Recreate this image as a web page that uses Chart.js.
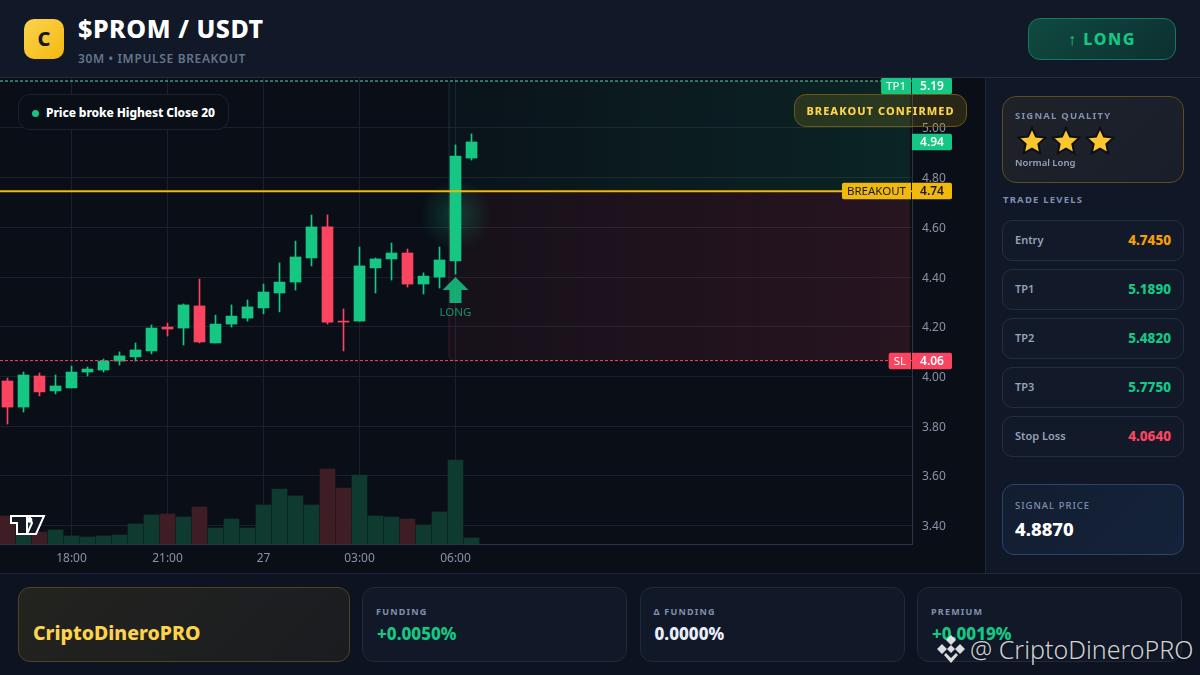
<!DOCTYPE html>
<html>
<head>
<meta charset="utf-8">
<title>$PROM / USDT</title>
<script src="https://cdn.jsdelivr.net/npm/chart.js@4/dist/chart.umd.min.js"></script>
<style>
  *{box-sizing:border-box;margin:0;padding:0}
  html,body{width:1200px;height:675px;overflow:hidden;background:#0a0e17;font-family:"Noto Sans",sans-serif}
  .abs{position:absolute;white-space:nowrap}
  #header{left:0;top:0;width:1200px;height:78px;background:#111827;border-bottom:1px solid #252d3d}
  #logo{left:24px;top:19px;width:40px;height:40px;border-radius:10px;background:linear-gradient(135deg,#fcd34d,#f5b90f);color:#111827;font:800 20px/40px "Noto Sans";text-align:center}
  #title{left:78px;top:11px;font-size:25px;line-height:34px;font-weight:800;color:#fff;letter-spacing:.55px}
  #sub{left:78px;top:50px;font-size:12px;line-height:18px;font-weight:600;color:#64748b;letter-spacing:.65px}
  #long{left:1028px;top:18px;width:148px;height:42px;border-radius:12px;border:1px solid #16795e;background:linear-gradient(135deg,#0f4a3f,#0d2f31);color:#16c784;font-size:16px;line-height:40px;font-weight:800;letter-spacing:1.6px;text-align:center}
  #chartbox{left:0;top:78px;width:985px;height:495px}
  #side{left:985px;top:78px;width:215px;height:495px;background:#101727;border-left:1px solid #1f2738}
  #footer{left:0;top:573px;width:1200px;height:102px;background:#0d1320;border-top:1px solid #1f2738}
  #pill{left:18px;top:94px;width:211px;height:36px;border-radius:12px;border:1px solid #1b2230;background:#0a0e17;color:#fff;font-size:12px;line-height:35px;font-weight:800;padding-left:27px;letter-spacing:-.1px}
  #pill i{position:absolute;left:13px;top:15px;width:7px;height:7px;border-radius:50%;background:#16c784}
  #confirmed{left:794px;top:94px;width:173px;height:33px;border-radius:12px;border:1px solid #6b5817;background:rgba(250,204,21,.13);color:#fcd34d;font-size:11px;line-height:32px;font-weight:800;letter-spacing:1.05px;text-align:center}
  #quality{left:1002px;top:96px;width:182px;height:87px;border-radius:14px;border:1px solid #5c4c1f;background:linear-gradient(135deg,#1f2228,#191e2b)}
  .cap{font-size:9.5px;line-height:14px;font-weight:700;letter-spacing:1.2px;color:#7f90b0}
  #stars{left:1017px;top:126px;display:flex;gap:4px}
  #stars svg{width:30px;height:30px}
  #normal{left:1015px;top:156px;font-size:9.5px;line-height:14px;font-weight:600;color:#94a3b8}
  .row{left:1002px;width:182px;height:41px;border-radius:10px;border:1px solid #252e40;background:#121a2a;font-size:11px;line-height:37px;font-weight:600;color:#94a3b8;padding:0 12px}
  .row b{float:right;font-size:13.5px;line-height:39px;font-weight:800}
  #price{left:1002px;top:484px;width:182px;height:71px;border-radius:12px;border:1px solid #2b4468;background:linear-gradient(135deg,#131d30,#14233a)}
  #price span{position:absolute;left:12px}
  .card{top:587px;height:75px;border-radius:12px;border:1px solid #212a3a;background:#111827}
  .card .cap{position:absolute;left:13px;top:17px;font-size:9px}
  .card b{position:absolute;left:14px;top:35px;font-size:17px;line-height:22px;font-weight:800}
  #brand{left:18px;top:587px;width:332px;height:75px;border-radius:12px;border:1px solid #4d4420;background:linear-gradient(135deg,#23231f,#1a1c20);color:#fcd34d;font-size:19.5px;line-height:90px;font-weight:800;padding-left:14px}
  #mark{left:970px;top:632px;font-size:25px;line-height:34px;font-weight:300;color:rgba(255,255,255,.82);text-shadow:0 1px 2px rgba(0,0,0,.5)}
</style>
</head>
<body>
<div class="abs" id="chartbox"><canvas id="chart" width="985" height="495"></canvas></div>
<div class="abs" id="header"></div>
<div class="abs" id="logo">C</div>
<div class="abs" id="title">$PROM / USDT</div>
<div class="abs" id="sub">30M • IMPULSE BREAKOUT</div>
<div class="abs" id="long">↑ LONG</div>
<div class="abs" id="side"></div>
<div class="abs" id="footer"></div>
<div class="abs" id="pill"><i></i>Price broke Highest Close 20</div>
<div class="abs" id="confirmed">BREAKOUT CONFIRMED</div>
<div class="abs" id="quality"></div>
<div class="abs cap" style="left:1015px;top:109px">SIGNAL QUALITY</div>
<div class="abs" id="stars"></div>
<div class="abs" id="normal">Normal Long</div>
<div class="abs cap" style="left:1003px;top:193px">TRADE LEVELS</div>
<div id="rows"></div>
<div class="abs" id="price">
  <span class="cap" style="top:14px;font-weight:500;letter-spacing:1px">SIGNAL PRICE</span>
  <span style="top:32px;font-size:18.5px;line-height:24px;font-weight:800;color:#fff">4.8870</span>
</div>
<div class="abs" id="brand">CriptoDineroPRO</div>
<div id="cards"></div>
<svg class="abs" style="left:10px;top:515px" width="36" height="20" viewBox="0 0 36 20">
  <path d="M1 1H17V19H7V8H1Z M19 1H34L26 19H17L22 8Z" fill="#131722" stroke="#fff" stroke-width="2"/>
  <circle cx="19.5" cy="5" r="2.8" fill="#fff"/>
</svg>
<svg class="abs" style="left:937px;top:635px" width="28" height="28" viewBox="0 0 28 28" fill="rgba(255,255,255,.85)">
  <path d="M14 0l5 5-5 5-5-5zM5 9l5 5-5 5-5-5zM23 9l5 5-5 5-5-5zM14 10l4 4-4 4-4-4zM9 18l5 5 5-5 2 2-7 8-7-8z"/>
</svg>
<div class="abs" id="mark">@ CriptoDineroPRO</div>

<script>
// CANDLES
const opens  = [3.982,3.877,4.002,3.942,3.954,4.018,4.026,4.062,4.079,4.103,4.199,4.195,4.284,4.135,4.211,4.235,4.276,4.336,4.380,4.477,4.602,4.223,4.223,4.437,4.473,4.497,4.372,4.400,4.465,4.879];
const highs  = [3.994,4.018,4.014,4.006,4.042,4.038,4.070,4.099,4.135,4.207,4.215,4.292,4.392,4.247,4.288,4.308,4.372,4.457,4.545,4.650,4.650,4.272,4.521,4.477,4.537,4.513,4.417,4.521,4.932,4.976];
const lows   = [3.809,3.857,3.922,3.930,3.954,4.002,4.018,4.046,4.062,4.091,4.163,4.127,4.135,4.135,4.199,4.223,4.252,4.260,4.348,4.445,4.211,4.103,4.223,4.336,4.388,4.360,4.332,4.356,4.412,4.871];
const closes = [3.877,4.006,3.938,3.962,4.018,4.030,4.062,4.083,4.107,4.195,4.191,4.288,4.139,4.211,4.243,4.280,4.340,4.380,4.481,4.602,4.219,4.219,4.445,4.473,4.497,4.372,4.404,4.469,4.887,4.944];
const volumes = [280,240,120,140,80,70,80,90,200,290,300,270,370,160,250,160,390,550,480,390,750,560,690,280,270,250,190,320,840,60];

const timeTicks = [4,10,16,22,28];
const timeLabels = ['18:00','21:00','27','03:00','06:00'];
const priceTicks = [3.4,3.6,3.8,4.0,4.2,4.4,4.6,4.8,5.0];

const tp1 = 5.189, entry = 4.745, stopLoss = 4.064, lastClose = 4.944;
const longIndex = 28;

const levelNames = ['Entry','TP1','TP2','TP3','Stop Loss'];
const levelValues = ['4.7450','5.1890','5.4820','5.7750','4.0640'];
const levelColors = ['#f59e0b','#16c784','#16c784','#16c784','#fb4560'];

const fundingNames = ['FUNDING','Δ FUNDING','PREMIUM'];
const fundingValues = ['+0.0050%','0.0000%','+0.0019%'];
const fundingColors = ['#16c784','#e8eefc','#16c784'];

const GREEN = '#16c784', RED = '#fb4560', GOLD = '#f0b90b';
const isUp = i => closes[i] >= opens[i];

// SIDE PANEL + FOOTER
levelNames.forEach((name,i) => {
  const row = document.createElement('div');
  row.className = 'abs row';
  row.style.top = (220 + i*49) + 'px';
  row.innerHTML = `${name}<b style="color:${levelColors[i]}">${levelValues[i]}</b>`;
  document.getElementById('rows').appendChild(row);
});
fundingNames.forEach((name,i) => {
  const card = document.createElement('div');
  card.className = 'abs card';
  card.style.left = (362 + i*277.5) + 'px';
  card.style.width = '265px';
  card.innerHTML = `<span class="cap">${name}</span><b style="color:${fundingColors[i]}">${fundingValues[i]}</b>`;
  document.getElementById('cards').appendChild(card);
});
document.getElementById('stars').innerHTML = '<svg viewBox="0 0 24 24"><path d="M12 1.5l3.2 6.9 7.5.9-5.6 5.1 1.5 7.5L12 18.2l-6.6 3.7 1.5-7.5-5.6-5.1 7.5-.9z" fill="#fcc62d" stroke="#0c0f16" stroke-width="1.6"/></svg>'.repeat(3);

// ZONES, GLOW (under the candles)
const zones = {
  id:'zones',
  // tick labels sit 1px lower in the original
  afterLayout(chart){
    const {ctx,scales:{y}} = chart;
    const draw = y.drawLabels.bind(y);
    y.drawLabels = area => { ctx.save(); ctx.translate(0,1); draw(area); ctx.restore(); };
  },
  beforeDatasetsDraw(chart){
    const {ctx,scales:{x,y}} = chart;
    const left = x.getPixelForValue(longIndex) - 6.5, right = x.right - 2;
    const yTp = y.getPixelForValue(tp1), yEn = y.getPixelForValue(entry), ySl = y.getPixelForValue(stopLoss);
    ctx.save();
    let g = ctx.createLinearGradient(left,0,right,0);
    g.addColorStop(0,'rgba(22,199,132,.03)');
    g.addColorStop(1,'rgba(22,199,132,.12)');
    ctx.fillStyle = g;
    ctx.fillRect(left,yTp,right-left,yEn-yTp);
    g = ctx.createLinearGradient(left,0,right,0);
    g.addColorStop(0,'rgba(251,69,96,.05)');
    g.addColorStop(.5,'rgba(251,69,96,.09)');
    g.addColorStop(1,'rgba(251,69,96,.12)');
    ctx.fillStyle = g;
    ctx.beginPath(); ctx.roundRect(left,yEn,right-left,ySl-yEn,[0,0,6,6]); ctx.fill();
    // left edges of the zones
    ctx.lineWidth = 1;
    ctx.strokeStyle = 'rgba(60,120,130,.3)';
    ctx.beginPath(); ctx.moveTo(left,yTp); ctx.lineTo(left,yEn); ctx.stroke();
    ctx.strokeStyle = 'rgba(251,69,96,.22)';
    ctx.beginPath(); ctx.moveTo(left,yEn); ctx.lineTo(left,ySl-6); ctx.quadraticCurveTo(left,ySl,left+6,ySl); ctx.stroke();
    // glow behind the breakout candle
    const gx = x.getPixelForValue(longIndex), gy = y.getPixelForValue(4.65);
    g = ctx.createRadialGradient(gx,gy,0,gx,gy,36);
    g.addColorStop(0,'rgba(22,199,132,.24)');
    g.addColorStop(1,'rgba(22,199,132,0)');
    ctx.fillStyle = g;
    ctx.fillRect(gx-36,gy-36,72,72);
    ctx.restore();
  }
};

// ARROW + PRICE TAGS (on top)
const tags = {
  id:'tags',
  afterDraw(chart){
    const {ctx,scales:{x,y}} = chart;
    const tag = (value,price,color,text,name) => {
      const cy = Math.round(Math.max(y.getPixelForValue(price), y.top + 8));
      const h = 16.5;
      ctx.font = '600 12px "Noto Sans"';
      ctx.textBaseline = 'middle';
      ctx.fillStyle = color;
      ctx.beginPath(); ctx.roundRect(x.right,cy-h/2,40,h,[0,2,2,0]); ctx.fill();
      ctx.fillStyle = text;
      ctx.textAlign = 'center';
      ctx.fillText(value,x.right+20,cy+.5);
      if(name){
        ctx.font = '11.5px "Noto Sans"';
        const w = ctx.measureText(name).width + 10;
        ctx.fillStyle = color;
        ctx.beginPath(); ctx.roundRect(x.right-1-w,cy-h/2,w,h,[2,0,0,2]); ctx.fill();
        ctx.fillStyle = text;
        ctx.fillText(name,x.right-1-w/2,cy+.5);
      }
    };
    ctx.save();
    tag('5.19',tp1,GREEN,'#fff','TP1');
    tag('4.94',lastClose,GREEN,'#fff');
    tag('4.74',entry,GOLD,'#1a1a1a','BREAKOUT');
    tag('4.06',stopLoss,RED,'#fff','SL');
    // long arrow below the breakout candle
    const ax = x.getPixelForValue(longIndex);
    const aTop = y.getPixelForValue(lows[longIndex]) + 3;
    ctx.fillStyle = 'rgba(22,199,132,.85)';
    ctx.beginPath();
    ctx.moveTo(ax,aTop);
    ctx.lineTo(ax+13,aTop+13);
    ctx.lineTo(ax+6,aTop+13);
    ctx.lineTo(ax+6,aTop+26);
    ctx.lineTo(ax-6,aTop+26);
    ctx.lineTo(ax-6,aTop+13);
    ctx.lineTo(ax-13,aTop+13);
    ctx.closePath();
    ctx.fill();
    ctx.fillStyle = 'rgba(22,199,132,.7)';
    ctx.font = '11.5px "Noto Sans"';
    ctx.textAlign = 'center';
    ctx.textBaseline = 'middle';
    ctx.fillText('LONG',ax,aTop+36);
    ctx.restore();
  }
};

const xMin = -0.46875, xMax = 56.53125;
const levelLine = (value,color,width,dash) => ({
  type:'line',
  data:[{x:xMin,y:value},{x:xMax,y:value}],
  borderColor:color,borderWidth:width,borderDash:dash,
  pointRadius:0,order:1
});

// CHART
new Chart(document.getElementById('chart'),{
  type:'bar',
  data:{
    datasets:[
      {
        data:volumes.map((v,i) => ({x:i,y:v})),
        yAxisID:'vol',
        backgroundColor:volumes.map((v,i) => isUp(i) ? '#0f3a30' : '#3e1d25'),
        barThickness:15,grouped:false,order:5
      },
      {
        data:highs.map((h,i) => ({x:i,y:[lows[i],h]})),
        backgroundColor:highs.map((h,i) => isUp(i) ? GREEN : RED),
        barThickness:1,grouped:false,order:3
      },
      {
        data:opens.map((o,i) => ({x:i,y:[o,closes[i]]})),
        backgroundColor:opens.map((o,i) => isUp(i) ? GREEN : RED),
        barThickness:11,grouped:false,order:2
      },
      levelLine(tp1,'#4fdcb8',1,[3,2]),
      levelLine(entry,'#f0b90b',2,[]),
      levelLine(stopLoss,'#fb4560',1,[3,2])
    ]
  },
  options:{
    responsive:false,
    animation:false,
    layout:{padding:0},
    plugins:{legend:{display:false},tooltip:{enabled:false}},
    scales:{
      x:{
        type:'linear',min:xMin,max:xMax,offset:false,
        afterBuildTicks(axis){ axis.ticks = timeTicks.map(value => ({value})); },
        afterFit(axis){ axis.height = 29; axis.paddingLeft = 0; axis.paddingRight = 0; },
        grid:{color:'#1a202c',drawTicks:false,offset:false},
        border:{color:'#2a3348'},
        ticks:{
          color:'#8a93a5',font:{family:'Noto Sans',size:12},padding:7,maxRotation:0,autoSkip:false,
          callback:v => timeLabels[timeTicks.indexOf(v)]
        }
      },
      y:{
        position:'right',min:3.326,max:5.2012,
        afterBuildTicks(axis){ axis.ticks = priceTicks.map(value => ({value})); },
        afterFit(axis){ axis.width = 73; axis.paddingTop = 0; axis.paddingBottom = 0; },
        grid:{color:'#1a202c',drawTicks:false},
        border:{color:'#2a3348'},
        ticks:{
          color:'#8a93a5',font:{family:'Noto Sans',size:12},padding:10,autoSkip:false,
          callback:v => v.toFixed(2)
        }
      },
      vol:{display:false,min:0,max:4660}
    }
  },
  plugins:[zones,tags]
});
</script>
</body>
</html>
